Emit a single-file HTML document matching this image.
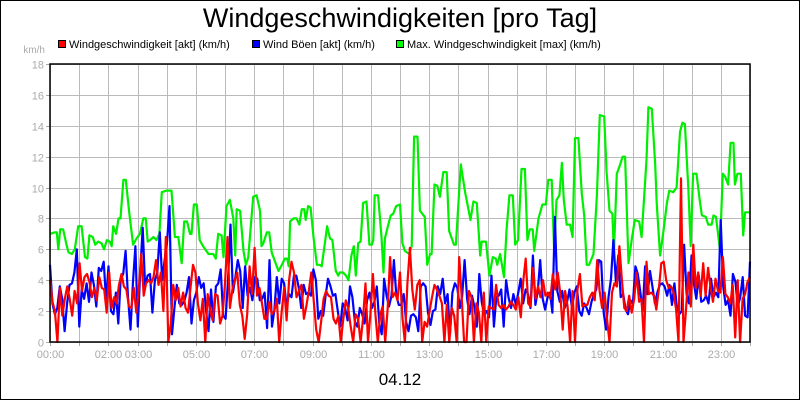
<!DOCTYPE html>
<html><head><meta charset="utf-8"><style>
html,body{margin:0;padding:0;background:#fff}
svg{display:block;font-family:"Liberation Sans",sans-serif}
</style></head><body>
<svg id="chart" width="800" height="400" viewBox="0 0 800 400">
<rect x="0.5" y="0.5" width="799" height="399" fill="#fff" stroke="#000"/>
<text x="400" y="27" font-size="27" text-anchor="middle" fill="#000">Windgeschwindigkeiten [pro Tag]</text>
<g>
<g><rect x="58.5" y="40.5" width="7" height="7" fill="#f00" stroke="#000"/><text x="69" y="48" font-size="11">Windgeschwindigkeit [akt] (km/h)</text></g>
<g><rect x="252.5" y="40.5" width="7" height="7" fill="#00f" stroke="#000"/><text x="263" y="48" font-size="11">Wind Böen [akt] (km/h)</text></g>
<g><rect x="396.5" y="40.5" width="7" height="7" fill="#0f0" stroke="#000"/><text x="407" y="48" font-size="11">Max. Windgeschwindigkeit [max] (km/h)</text></g>
</g>
<text x="45" y="53" font-size="10" fill="#aaa" text-anchor="end">km/h</text>
<g id="grid"></g>
<g id="series"></g>
<rect x="50" y="64" width="700" height="278" fill="none" stroke="#000" stroke-width="1.5"/>
<text x="400" y="385" font-size="17" text-anchor="middle">04.12</text>
</svg>
<script>
const yTicks=[0,2,4,6,8,10,12,14,16,18];
const xTickLabels=["00:00","","02:00","03:00","","05:00","","07:00","","09:00","","11:00","","13:00","","15:00","","17:00","","19:00","","21:00","","23:00",""];
const maxTimes=[0,10,14,17,21,27,34,38,45,51,58,65,72,77,81,88,93,99,106,111,117,123,127,130,136,141,145,151,156,163,171,178,185,192,197,201,206,213,219,225,230,240,250,257,264,271,276,282,288,291,296,302,308,315,326,336,341,346,353,357,363,370,377,381,384,391,398,403,408,413,418,425,432,435,439,446,451,456,463,470,477,483,488,491,494,501,507,513,518,523,526,531,536,542,549,555,559,566,570,576,581,588,593,596,603,609,614,620,625,629,634,639,644,651,657,662,665,668,675,682,686,689,696,701,706,712,
720,725,730,739,744,749,756,761,771,776,782,785,791,797,802,809,816,821,831,835,845,854,865,871,878,885,888,897,904,911,917,920,926,934,939,945,952,957,963,970,977,982,987,993,996,1005,1013,1020,1025,1032,1037,1042,1048,1053,1057,1063,1070,1075,1080,1087,1094,1099,1104,1109,1118,1125,1131,1140,1145,1151,1157,1160,1166,1173,1178,1183,1190,1197,1203,1212,1217,1227,1231,1238,1245,1248,1255,1262,1269,1274,1282,1289,1296,1301,1306,1313,1318,1323,1330,1337,1341,1349,1354,1361,1365,1370,1378,1384,1389,1395,1400,1406,1409,1414,1421,1426,1430,1439];
const maxValues=[7.0,7.1,7.1,6.0,7.3,7.3,6.3,5.8,5.7,6.0,7.5,7.5,5.5,5.4,6.9,6.8,6.3,6.5,6.4,6.0,6.6,6.5,6.2,7.5,7.0,8.0,8.0,10.5,10.5,8.4,6.3,6.7,7.0,8.0,8.0,6.5,6.6,6.8,6.6,7.0,9.7,9.8,9.8,6.8,6.8,5.1,7.8,7.8,7.0,7.0,8.9,8.9,6.6,6.2,5.7,5.7,5.4,7.0,6.9,5.5,8.8,9.2,8.0,5.6,8.6,8.5,5.9,5.0,5.5,7.5,9.4,9.5,8.5,6.2,6.4,7.1,7.1,5.8,5.2,4.6,5.0,5.4,5.4,4.9,7.8,8.0,8.0,7.6,8.6,8.6,7.9,8.8,8.7,6.8,5.0,5.0,4.9,6.5,7.5,6.7,6.6,4.6,4.3,4.5,4.5,4.3,4.0,5.6,6.2,4.3,6.4,6.5,9.0,9.1,6.3,6.3,6.6,9.5,9.5,6.8,4.5,6.7,7.6,8.2,8.3,8.8,
8.9,6.4,5.9,5.7,6.2,13.3,13.3,8.5,8.1,5.0,5.7,5.7,10.2,10.1,9.4,11.0,11.0,7.2,6.3,6.3,11.5,9.7,7.9,9.1,9.0,5.6,6.5,6.5,4.3,5.5,5.4,5.0,5.7,4.2,7.2,9.5,9.5,6.3,6.6,11.2,11.2,6.6,7.3,7.3,5.9,8.0,8.9,8.9,10.5,10.5,6.0,9.2,9.5,11.6,9.2,7.6,7.6,6.8,13.2,13.2,9.6,8.2,5.0,5.0,5.7,9.5,14.7,14.6,11.0,8.5,8.3,5.7,10.9,11.5,12.0,12.0,5.1,6.7,7.9,7.8,6.8,11.8,15.2,15.1,11.5,9.0,5.6,7.2,9.0,9.8,9.7,10.0,13.6,14.2,14.1,10.0,6.2,10.9,10.9,9.1,8.2,8.1,7.6,7.6,8.2,8.1,6.0,10.9,10.7,10.2,12.9,12.9,10.2,10.9,10.9,6.9,8.4,8.4];
const gustValues=[5.0,2.5,1.8,2.2,3.6,2.8,0.7,2.5,3.7,3.8,4.5,6.0,1.0,3.4,2.8,3.8,2.6,4.5,3.7,2.3,4.8,4.6,5.2,2.7,4.9,2.0,1.8,3.2,1.2,4.1,4.4,5.9,2.9,0.8,3.8,6.2,1.0,4.5,7.4,3.6,4.3,4.4,1.9,4.0,4.5,7.1,4.0,5.3,6.5,8.8,0.5,2.2,3.7,2.5,2.4,2.6,3.2,4.2,1.2,2.7,3.2,4.2,3.5,3.8,2.0,0.7,3.4,1.3,3.6,3.8,4.7,1.7,1.5,4.0,7.6,3.2,4.2,5.3,4.6,2.2,4.9,3.0,3.5,2.7,4.2,4.1,2.7,2.8,3.2,0.9,5.3,1.0,2.1,4.2,2.5,4.1,3.8,2.3,3.1,2.9,4.3,4.3,3.5,2.2,3.7,3.1,3.2,3.0,4.7,4.0,1.5,2.0,1.7,3.0,4.1,3.6,3.0,3.1,2.0,1.0,2.5,2.2,1.4,3.6,2.9,1.3,1.0,2.2,1.8,1.2,2.7,3.2,2.2,2.6,3.6,1.2,0.5,4.1,3.0,2.3,3.0,5.3,3.0,2.4,
2.4,3.1,1.3,0.7,1.7,1.8,1.6,0.7,3.6,3.8,3.6,1.9,1.1,2.0,2.1,3.6,3.1,4.1,2.5,3.1,0.5,3.2,3.8,3.5,2.2,3.0,5.3,2.8,1.8,3.0,2.3,1.0,4.4,2.6,1.8,2.0,1.6,4.3,1.0,2.9,3.0,3.4,1.0,4.0,2.9,2.2,3.1,2.4,3.2,4.1,2.5,3.4,3.1,2.2,5.6,2.4,3.3,5.3,2.8,2.1,2.9,3.2,1.9,8.1,3.3,2.6,3.3,2.2,2.6,3.4,2.2,3.2,3.6,2.0,1.7,2.5,2.2,1.8,2.6,3.1,3.4,5.3,5.2,1.9,0.8,2.9,4.1,6.6,3.9,5.6,2.9,3.1,2.1,1.8,2.7,2.5,4.9,4.4,3.3,2.0,4.9,3.1,4.6,3.6,2.5,3.2,3.7,3.8,3.6,3.0,3.7,2.4,3.8,2.3,1.8,2.0,6.3,3.1,2.5,5.6,3.8,2.8,4.3,2.6,2.7,3.0,2.5,4.1,2.9,3.2,2.9,7.9,3.6,2.4,2.7,1.7,4.4,3.9,2.3,2.9,4.2,1.7,1.6,5.2];
const speedValues=[4.0,2.6,2.0,0.0,3.5,1.7,2.8,3.6,2.8,1.7,3.3,2.5,5.1,3.3,4.2,4.4,3.9,2.9,3.5,2.7,4.2,3.5,3.4,1.9,4.5,2.2,2.9,2.5,3.7,4.4,3.6,3.4,2.3,2.2,3.5,1.9,3.3,5.7,3.0,3.8,4.0,3.8,4.2,5.3,3.7,4.5,2.0,6.8,0.0,1.2,3.7,2.7,3.5,2.3,3.2,2.2,1.9,3.5,5.0,4.5,2.5,1.4,2.8,0.0,3.1,2.0,1.4,3.1,3.0,1.2,1.7,3.8,6.8,2.2,3.4,4.0,4.5,2.4,1.7,0.2,1.8,4.9,3.1,6.1,3.0,3.5,2.5,1.5,1.5,2.6,1.8,2.0,2.8,0.0,2.0,3.5,1.4,4.0,5.2,4.5,2.9,3.3,3.7,1.5,2.3,3.3,4.5,2.7,0.8,0.0,1.3,2.8,3.3,3.0,2.9,1.5,1.2,1.7,0.0,1.5,2.7,2.2,1.0,0.0,1.8,1.5,0.0,1.5,3.8,0.0,1.8,4.4,1.8,0.0,1.8,2.3,0.0,2.2,5.5,2.9,3.2,
2.7,4.5,1.5,0.0,3.8,6.1,3.4,2.1,3.7,4.0,0.0,1.3,1.0,2.0,2.9,3.7,3.4,3.0,2.5,0.0,2.4,0.0,2.2,1.7,0.0,5.5,3.0,0.0,0.0,3.3,2.9,0.0,2.5,1.9,0.0,3.2,0.0,2.3,2.2,2.1,3.7,2.4,2.2,2.4,2.1,2.3,2.6,2.4,2.1,2.9,1.6,3.9,5.4,2.5,2.3,4.8,2.8,3.6,2.9,4.0,3.0,3.2,2.8,4.4,3.4,4.5,3.2,0.8,3.3,2.3,0.0,3.3,0.0,3.4,4.4,2.3,2.4,2.4,2.9,3.2,2.7,5.3,3.3,2.2,3.2,1.5,0.0,3.2,3.8,3.6,6.2,4.1,2.2,2.0,3.0,1.9,2.8,4.5,2.6,2.8,0.0,5.2,3.1,3.2,3.0,2.1,3.4,5.1,5.2,4.0,3.5,3.6,3.2,2.1,0.0,10.6,0.0,2.0,4.5,2.3,6.3,3.5,4.5,3.0,5.1,3.0,4.8,3.5,2.6,4.1,3.3,3.2,5.5,3.1,2.9,2.5,3.7,0.3,4.0,0.0,2.8,3.1,3.9,4.2];

const NS='http://www.w3.org/2000/svg';
const X0=50,X1=750,Y0=342,Y1=64,YMAX=18,TMAX=1440;
function xScale(m){return X0+(m/TMAX)*(X1-X0);}
function yScale(v){return Y0-(v/YMAX)*(Y0-Y1);}
const grid=document.getElementById('grid');
const series=document.getElementById('series');
function mk(tag,attrs,parent){const e=document.createElementNS(NS,tag);for(const k in attrs)e.setAttribute(k,attrs[k]);parent.appendChild(e);return e;}

yTicks.forEach(v=>{
  const y=Math.round(yScale(v))+0.5;
  const l=mk('line',{x1:X0,x2:X1,y1:y,y2:y,stroke:'#bbb','stroke-width':1},grid);
  
  
  const tk=mk('line',{x1:X0-4,x2:X0,y1:y,y2:y,stroke:'#aaa'},grid);
  
  
  const t=mk('text',{x:X0-6,y:y+4,'font-size':11,fill:'#aaa','text-anchor':'end'},grid);
  t.textContent=v;
  
  
});
xTickLabels.forEach((lab,i)=>{
  const x=Math.round(xScale(i*60))+0.5;
  const l=mk('line',{x1:x,x2:x,y1:Y1,y2:Y0,stroke:'#bbb','stroke-width':1},grid);
  
  
  const tk=mk('line',{x1:x,x2:x,y1:Y0,y2:Y0+4,stroke:'#aaa'},grid);
  
  
  if(lab){
    const t=mk('text',{x:x,y:358,'font-size':11,fill:'#aaa','text-anchor':'middle'},grid);
    t.textContent=lab;
    
    
  }
});
function line(times,vals,color,name){
  const pts=vals.map((v,i)=>xScale(times[i]).toFixed(1)+','+yScale(v).toFixed(1)).join(' ');
  const p=mk('polyline',{points:pts,fill:'none',stroke:color,'stroke-width':2.2,'stroke-linejoin':'round'},series);
  
  
}
function uniformTimes(n){return Array.from({length:n},(_,i)=>i*TMAX/(n-1));}
line(maxTimes,maxValues,'#00ee00','max-speed-line');
line(uniformTimes(gustValues.length),gustValues,'#0000ff','gust-line');
line(uniformTimes(speedValues.length),speedValues,'#ff0000','speed-line');
</script>
</body></html>
